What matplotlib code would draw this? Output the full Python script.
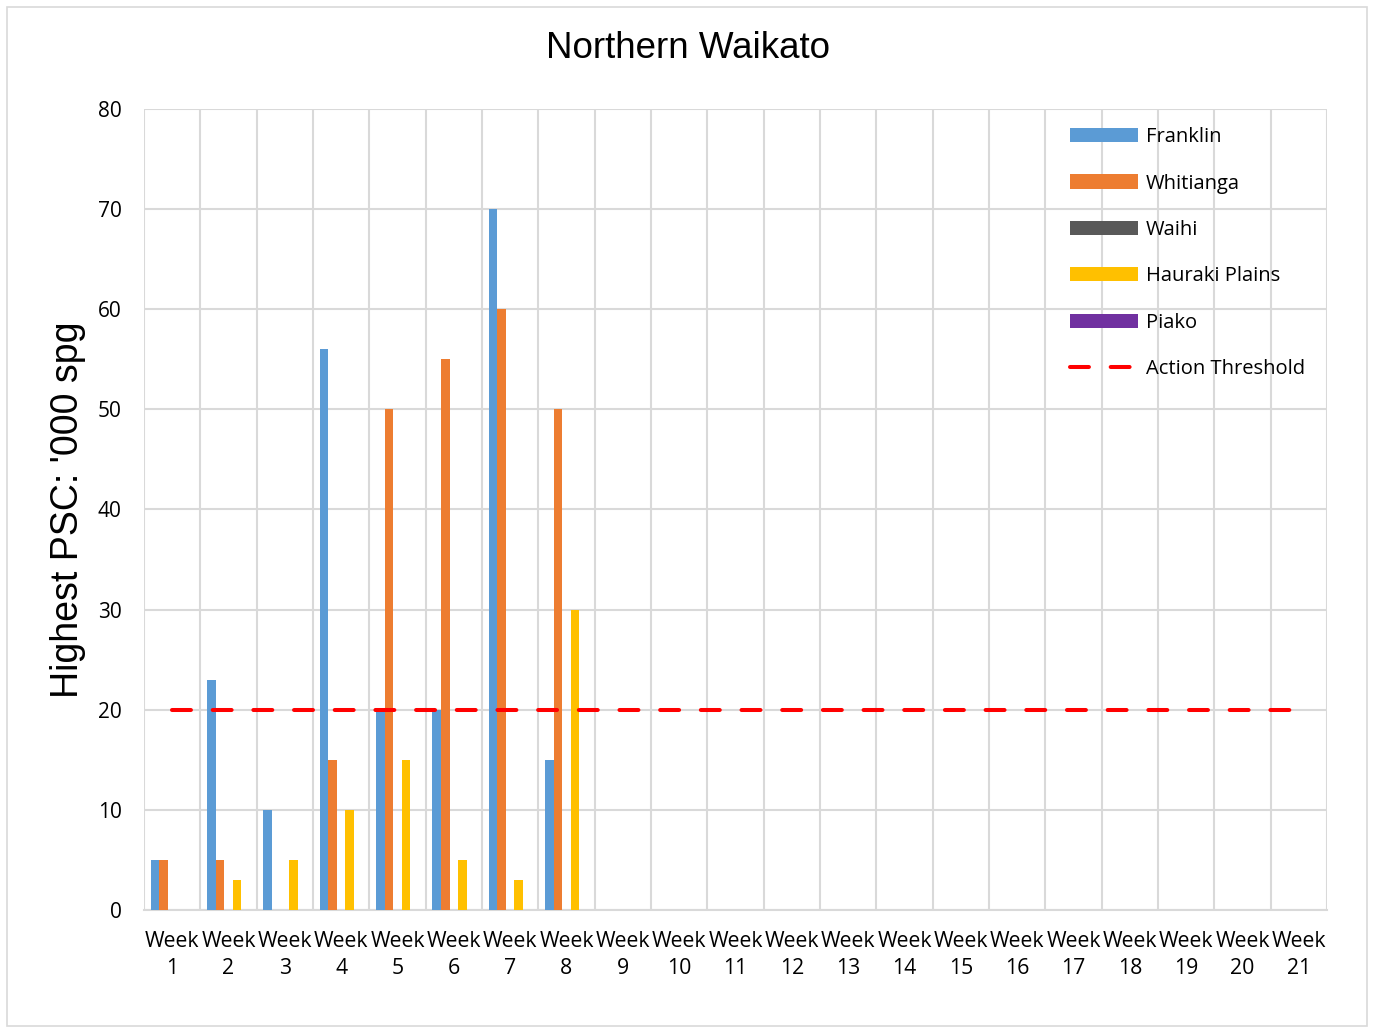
import numpy as np
import matplotlib.pyplot as plt
from matplotlib.patches import Rectangle

# data
weeks = ['Week\n%d' % i for i in range(1, 22)]
franklin = [5, 23, 10, 56, 20, 20, 70, 15]
whitianga = [5, 5, 0, 15, 50, 55, 60, 50]
waihi = [0, 0, 0, 0, 0, 0, 0, 0]
hauraki = [0, 3, 5, 10, 15, 5, 3, 30]
piako = [0, 0, 0, 0, 0, 0, 0, 0]
threshold = [20] * 21

series = [
    ('Franklin', franklin, '#5b9bd5'),
    ('Whitianga', whitianga, '#ed7d31'),
    ('Waihi', waihi, '#595959'),
    ('Hauraki Plains', hauraki, '#ffc000'),
    ('Piako', piako, '#7030a0'),
]

body_font = 'Open Sans'
head_font = 'Liberation Sans'

fig = plt.figure(figsize=(13.75, 10.28), dpi=100)
ax = fig.add_axes([144 / 1375, 1 - 910 / 1028, (1327 - 144) / 1375, (910 - 109) / 1028])

x = np.arange(len(weeks))
bw = 0.152
handles = []
for i, (name, vals, col) in enumerate(series):
    xs = x[:len(vals)] + (i - 2) * bw
    handles.append(ax.bar(xs, vals, width=bw, color=col, label=name, zorder=3))

line, = ax.plot(x, threshold, color='#ff0000', lw=2.9, dashes=(4.7, 5.4),
                dash_capstyle='round', label='Action Threshold', zorder=4)
handles.append(line)

ax.set_xlim(-0.5, len(weeks) - 0.5)
ax.set_ylim(0, 80)
ax.set_yticks(range(0, 81, 10))
ax.set_xticks(x)
ax.set_xticklabels(weeks, fontsize=15.3, family=body_font, linespacing=1.4)
ax.set_xticks(np.arange(-0.5, len(weeks), 1), minor=True)
for t in ax.get_yticklabels():
    t.set_fontsize(15)
    t.set_family(body_font)

ax.grid(axis='y', which='major', color='#d9d9d9', lw=1.5, zorder=0)
ax.grid(axis='x', which='minor', color='#d9d9d9', lw=1.5, zorder=0)
ax.tick_params(which='both', length=0)
ax.tick_params(axis='x', pad=15)
ax.tick_params(axis='y', pad=16)
for s in ['top', 'right', 'left']:
    ax.spines[s].set_visible(False)
ax.spines['bottom'].set_color('#d9d9d9')
ax.spines['bottom'].set_linewidth(1.5)

fig.text(0.5, 1 - 48 / 1028, 'Northern Waikato', ha='center', va='center',
         fontsize=26.5, family=head_font)
fig.text(68 / 1375, 1 - 510 / 1028, "Highest PSC: '000 spg", ha='center', va='center',
         rotation=90, fontsize=27, family=head_font)

leg = ax.legend(handles=handles, loc='upper right', bbox_to_anchor=(0.997, 1.0),
                frameon=False, prop={'family': body_font, 'size': 14.5},
                handlelength=3.4, handleheight=0.7, labelspacing=1.31,
                handletextpad=0.4, borderaxespad=0.5)

fig.patches.append(Rectangle((7 / 1375, 2 / 1028), 1360 / 1375, 1019 / 1028,
                             transform=fig.transFigure, fill=False,
                             edgecolor='#d9d9d9', lw=1.2))

fig.savefig('out.png', dpi=100)
